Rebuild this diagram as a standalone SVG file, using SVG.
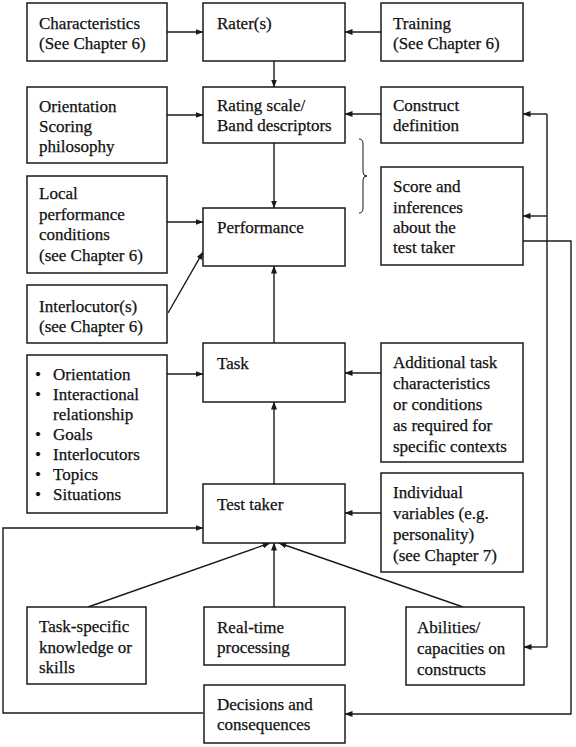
<svg xmlns="http://www.w3.org/2000/svg" width="576" height="747" viewBox="0 0 576 747" font-family="'Liberation Serif', 'Times New Roman', serif">
<style>
.box{fill:#fff;stroke:#1a1a1a;stroke-width:1.5}
.t{font-family:'Liberation Serif','Times New Roman',serif;font-size:17px;fill:#111;stroke:#111;stroke-width:0.25}
.c{fill:none;stroke:#1a1a1a;stroke-width:1.4}
.arr{marker-end:url(#ah)}
</style>
<defs>
<marker id="ah" markerWidth="8" markerHeight="6" refX="7.5" refY="3" orient="auto" markerUnits="userSpaceOnUse">
<path d="M0,0 L8,3 L0,6 Z" fill="#1a1a1a"/>
</marker>
</defs>
<rect width="576" height="747" fill="#fff"/>
<g id="connectors">
<path class="c arr" d="M167,32 H203"/>
<path class="c arr" d="M381,32 H345"/>
<path class="c arr" d="M274,61 V87"/>
<path class="c arr" d="M167,115 H203"/>
<path class="c arr" d="M381,114 H345"/>
<path class="c" d="M547,114 V647"/>
<path class="c arr" d="M547,114 H523"/>
<path class="c arr" d="M547,216 H523"/>
<path class="c arr" d="M547,647 H524"/>
<path class="c arr" d="M274,143 V208"/>
<path class="c arr" d="M167,222 H203"/>
<path class="c arr" d="M168,313 L203,252"/>
<path class="c arr" d="M274,343 V266"/>
<path class="c arr" d="M167,374 H203"/>
<path class="c arr" d="M381,373 H345"/>
<path class="c arr" d="M274,484 V402"/>
<path class="c arr" d="M381,513 H345"/>
<path class="c arr" d="M88,607 L270,543"/>
<path class="c arr" d="M274,607 V543"/>
<path class="c arr" d="M463,607 L279,543"/>
<path class="c arr" d="M523,241 H571 V714 H345"/>
<path class="c arr" d="M203,713 H3 V528 H203"/>
<path class="c" style="stroke-width:1" d="M359,139 Q363,139 363,144 V172 Q363,176 367,176 Q363,176 363,180 V208 Q363,213 359,213"/>
</g>
<g id="characteristics">
<rect class="box" x="27" y="3" width="140" height="58"/>
<text class="t" x="39" y="29">Characteristics</text>
<text class="t" x="39" y="49">(See Chapter 6)</text>
</g>
<g id="raters">
<rect class="box" x="203" y="3" width="142" height="58"/>
<text class="t" x="217" y="29">Rater(s)</text>
</g>
<g id="training">
<rect class="box" x="381" y="3" width="142" height="58"/>
<text class="t" x="393" y="29">Training</text>
<text class="t" x="393" y="49">(See Chapter 6)</text>
</g>
<g id="orientation">
<rect class="box" x="27" y="87" width="140" height="76"/>
<text class="t" x="39" y="112">Orientation</text>
<text class="t" x="39" y="132">Scoring</text>
<text class="t" x="39" y="152">philosophy</text>
</g>
<g id="rating-scale">
<rect class="box" x="203" y="87" width="142" height="56"/>
<text class="t" x="217" y="111">Rating scale/</text>
<text class="t" x="217" y="131">Band descriptors</text>
</g>
<g id="construct">
<rect class="box" x="381" y="87" width="142" height="56"/>
<text class="t" x="393" y="111">Construct</text>
<text class="t" x="393" y="131">definition</text>
</g>
<g id="local">
<rect class="box" x="27" y="176" width="140" height="97"/>
<text class="t" x="39" y="199">Local</text>
<text class="t" x="39" y="220">performance</text>
<text class="t" x="39" y="240">conditions</text>
<text class="t" x="39" y="261">(see Chapter 6)</text>
</g>
<g id="performance">
<rect class="box" x="203" y="208" width="142" height="58"/>
<text class="t" x="217" y="233">Performance</text>
</g>
<g id="score">
<rect class="box" x="381" y="167" width="142" height="98"/>
<text class="t" x="393" y="192">Score and</text>
<text class="t" x="393" y="213">inferences</text>
<text class="t" x="393" y="233">about the</text>
<text class="t" x="393" y="253">test taker</text>
</g>
<g id="interlocutors">
<rect class="box" x="27" y="285" width="140" height="58"/>
<text class="t" x="39" y="312">Interlocutor(s)</text>
<text class="t" x="39" y="332">(see Chapter 6)</text>
</g>
<g id="task-features">
<rect class="box" x="27" y="355" width="140" height="158"/>
<g class="t">
<text x="35" y="380">•</text><text x="53" y="380">Orientation</text>
<text x="35" y="400">•</text><text x="53" y="400">Interactional</text>
<text x="53" y="420">relationship</text>
<text x="35" y="440">•</text><text x="53" y="440">Goals</text>
<text x="35" y="460">•</text><text x="53" y="460">Interlocutors</text>
<text x="35" y="480">•</text><text x="53" y="480">Topics</text>
<text x="35" y="500">•</text><text x="53" y="500">Situations</text>
</g>
</g>
<g id="task">
<rect class="box" x="203" y="343" width="142" height="59"/>
<text class="t" x="217" y="369">Task</text>
</g>
<g id="additional">
<rect class="box" x="381" y="343" width="142" height="119"/>
<text class="t" x="393" y="368">Additional task</text>
<text class="t" x="393" y="389">characteristics</text>
<text class="t" x="393" y="410">or conditions</text>
<text class="t" x="393" y="431">as required for</text>
<text class="t" x="393" y="452">specific contexts</text>
</g>
<g id="test-taker">
<rect class="box" x="203" y="484" width="142" height="59"/>
<text class="t" x="217" y="510">Test taker</text>
</g>
<g id="individual">
<rect class="box" x="381" y="473" width="142" height="99"/>
<text class="t" x="393" y="498">Individual</text>
<text class="t" x="393" y="519">variables (e.g.</text>
<text class="t" x="393" y="540">personality)</text>
<text class="t" x="393" y="561">(see Chapter 7)</text>
</g>
<g id="task-specific">
<rect class="box" x="27" y="607" width="119" height="77"/>
<text class="t" x="39" y="632">Task-specific</text>
<text class="t" x="39" y="653">knowledge or</text>
<text class="t" x="39" y="673">skills</text>
</g>
<g id="real-time">
<rect class="box" x="204" y="607" width="141" height="58"/>
<text class="t" x="217" y="633">Real-time</text>
<text class="t" x="217" y="653">processing</text>
</g>
<g id="abilities">
<rect class="box" x="406" y="607" width="118" height="78"/>
<text class="t" x="417" y="633">Abilities/</text>
<text class="t" x="417" y="654">capacities on</text>
<text class="t" x="417" y="675">constructs</text>
</g>
<g id="decisions">
<rect class="box" x="204" y="685" width="141" height="58"/>
<text class="t" x="217" y="710">Decisions and</text>
<text class="t" x="217" y="730">consequences</text>
</g>
</svg>
